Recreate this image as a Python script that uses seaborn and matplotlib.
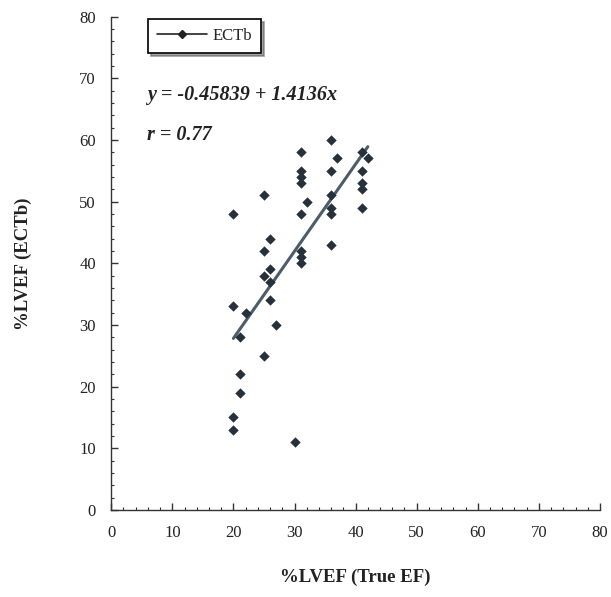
import numpy as np
import pandas as pd
import matplotlib
matplotlib.use("Agg")
import matplotlib.pyplot as plt
import seaborn as sns
from matplotlib.ticker import MultipleLocator

# Data
true_ef = [20, 20, 20, 20, 21, 21, 21, 22, 25, 25, 25, 25, 26, 26, 26, 26, 27,
           30, 31, 31, 31, 31, 31, 31, 31, 31, 32, 36, 36, 36, 36, 36, 36, 37,
           41, 41, 41, 41, 41, 42]
ectb = [48, 33, 15, 13, 22, 19, 28, 32, 51, 42, 38, 25, 44, 39, 37, 34, 30,
        11, 58, 55, 54, 53, 48, 42, 41, 40, 50, 60, 55, 51, 49, 48, 43, 57,
        58, 55, 53, 52, 49, 57]
intercept = -0.45839
slope = 1.4136
r_value = 0.77
series_name = "ECTb"

df = pd.DataFrame({"x": true_ef, "y": ectb})
xs = np.array([min(true_ef), max(true_ef)])
line_df = pd.DataFrame({"x": xs, "y": intercept + slope * xs})

sns.set_theme(style="white")
plt.rcParams["font.family"] = ["Liberation Serif", "DejaVu Serif"]

fig = plt.figure(figsize=(6.11, 5.97), dpi=100)
ax = fig.add_axes([0.182, 0.146, 0.800, 0.826])

pt_color = "#27313b"
line_color = "#4c5c68"

sns.scatterplot(data=df, x="x", y="y", ax=ax, marker="D", s=28,
                color=pt_color, edgecolor=pt_color, linewidth=0, zorder=3)
sns.lineplot(data=line_df, x="x", y="y", ax=ax, color=line_color, lw=2.2,
             zorder=2)

ax.set_xlim(0, 80)
ax.set_ylim(0, 80)
ax.xaxis.set_major_locator(MultipleLocator(10))
ax.yaxis.set_major_locator(MultipleLocator(10))
ax.xaxis.set_minor_locator(MultipleLocator(2))
ax.yaxis.set_minor_locator(MultipleLocator(2))
ax.tick_params(axis="both", which="major", direction="in", length=5,
               width=1, color="#333333", labelsize=12, labelcolor="#222222",
               bottom=True, left=True, top=False, right=False)
ax.tick_params(axis="both", which="minor", direction="in", length=2.5,
               width=0.8, color="#333333",
               bottom=True, left=True, top=False, right=False)
ax.tick_params(axis="x", which="major", pad=11)
ax.tick_params(axis="y", which="major", pad=11)

for s in ["top", "right"]:
    ax.spines[s].set_visible(False)
for s in ["left", "bottom"]:
    ax.spines[s].set_color("#333333")
    ax.spines[s].set_linewidth(1.0)

ax.set_xlabel("%LVEF (True EF)", fontsize=13.5, fontweight="bold",
              color="#222222", labelpad=20)
ax.set_ylabel("%LVEF (ECTb)", fontsize=13.5, fontweight="bold",
              color="#222222", labelpad=34)

# legend
handle = plt.Line2D([], [], color="#222222", lw=1.2, marker="D",
                    markersize=4, markerfacecolor="#222222")
leg = ax.legend([handle], [series_name], loc="upper left",
                bbox_to_anchor=(0.058, 1.012), frameon=True, shadow=True,
                fancybox=False, fontsize=12, handlelength=3.0,
                handletextpad=0.3, borderpad=0.55, edgecolor="#111111")
leg.get_frame().set_linewidth(1.3)

ax.text(5.8, 67.3, f"y = {intercept} + {slope}x", fontsize=14.5,
        fontweight="bold", fontstyle="italic", va="center", ha="left",
        color="#222222")
ax.text(5.8, 60.8, f"r = {r_value}", fontsize=14.5, fontweight="bold",
        fontstyle="italic", va="center", ha="left", color="#222222")

fig.savefig("out.png", dpi=100)
